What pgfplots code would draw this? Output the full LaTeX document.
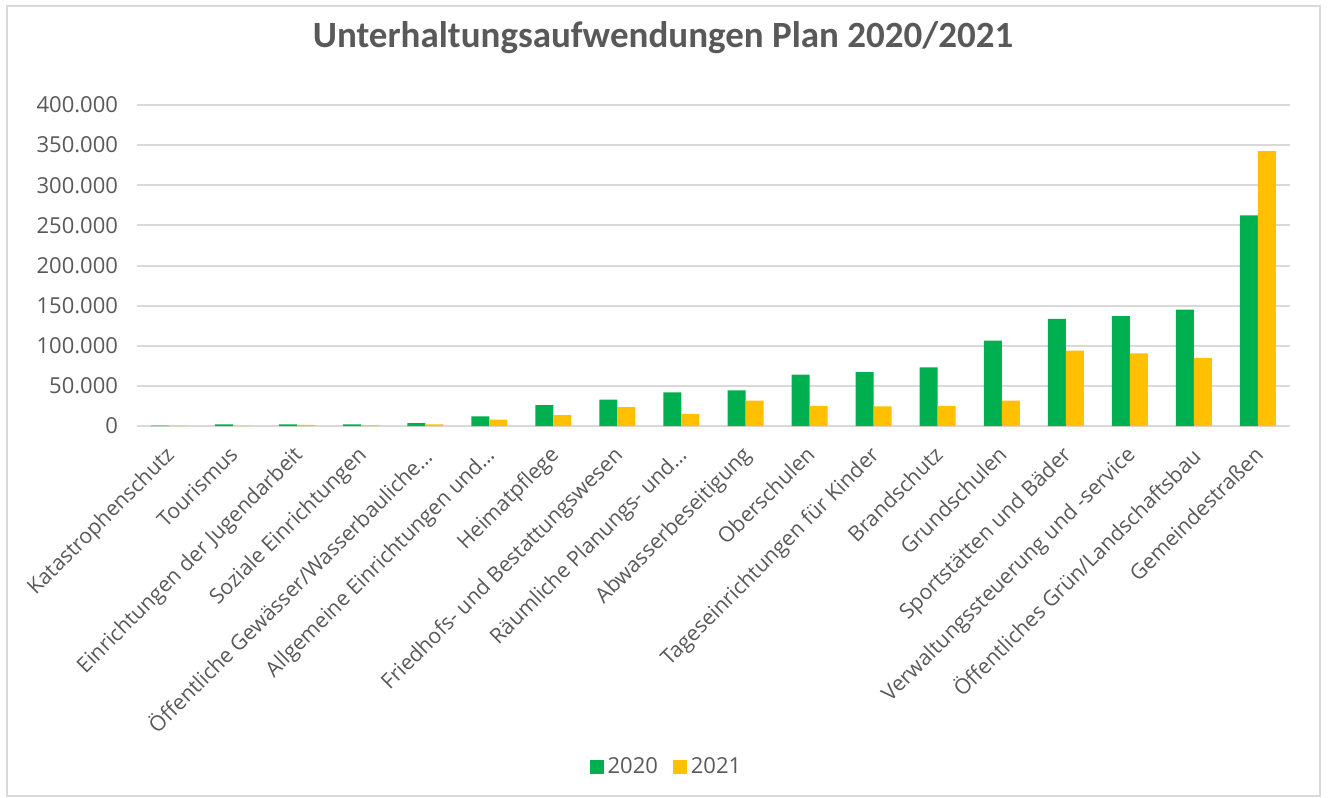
\documentclass[border=0pt]{standalone}
\usepackage{pgfplots}
\pgfplotsset{compat=1.18}
\usepackage{fontspec}
\setmainfont{Open Sans}
\newfontfamily\titlefont{Carlito}
\definecolor{g20}{HTML}{00B050}
\definecolor{y21}{HTML}{FFC000}
\definecolor{txt}{HTML}{595959}
\definecolor{grd}{HTML}{D9D9D9}

\pgfplotstableread{
x  v2020   v2021
0  500     300
1  2000    300
2  2000    1500
3  2000    800
4  3500    2000
5  12000   8000
6  26000   13500
7  33000   23500
8  42000   15000
9  44500   31500
10 64000   25000
11 67000   24500
12 73000   25000
13 106500  31600
14 133500  94000
15 137000  90500
16 145000  85000
17 262500  342500
}\datatable

\begin{document}
\begin{tikzpicture}
% chart area, 1px = 0.5bp, origin at the lower left corner of the plot area
\useasboundingbox[fill=white] (-68.5bp,-186bp) rectangle (595.5bp,213bp);
\draw[grd, line width=1bp] (-65bp,-185bp) rectangle (591.5bp,210bp);
\begin{axis}[
    at={(0,0)}, anchor=south west,
    scale only axis,
    width=576.5bp, height=160.5bp,
    ybar=0pt, bar width=9bp,
    xmin=-0.5, xmax=17.5,
    ymin=0, ymax=400000,
    ytick={0,50000,...,400000},
    scaled y ticks=false,
    /pgf/number format/.cd, fixed, 1000 sep={.}, assume math mode=true,
    /pgfplots/.cd,
    axis line style={draw=none},
    major tick length=0pt,
    ymajorgrids, grid style={grd, line width=1bp},
    xtick={0,...,17},
    xticklabels={
      {Katastrophenschutz},
      {Tourismus},
      {Einrichtungen der Jugendarbeit},
      {Soziale Einrichtungen},
      {Öffentliche Gewässer/Wasserbauliche…},
      {Allgemeine Einrichtungen und…},
      {Heimatpflege},
      {Friedhofs- und Bestattungswesen},
      {Räumliche Planungs- und…},
      {Abwasserbeseitigung},
      {Oberschulen},
      {Tageseinrichtungen für Kinder},
      {Brandschutz},
      {Grundschulen},
      {Sportstätten und Bäder},
      {Verwaltungssteuerung und -service},
      {Öffentliches Grün/Landschaftsbau},
      {Gemeindestraßen}},
    xticklabel style={xshift=-2.5bp, yshift=-4.5bp, rotate=45, anchor=north east, font=\fontsize{10.6bp}{13bp}\selectfont, text=txt},
    yticklabel style={font=\fontsize{11bp}{13bp}\selectfont, text=txt, xshift=-6bp},
    title={Unterhaltungsaufwendungen Plan 2020/2021},
    title style={at={(0.4562,1)}, anchor=center, yshift=27.5bp, font=\titlefont\bfseries\fontsize{18.5bp}{22bp}\selectfont, text=txt},
    legend columns=2,
    legend style={at={(0.46,-1.062)}, anchor=center, draw=none,
      font=\fontsize{11bp}{13bp}\selectfont, text=txt,
      /tikz/every even column/.append style={column sep=5.5bp}},
    legend image code/.code={\fill[#1] (0bp,-3.5bp) rectangle (7bp,3.5bp);},
]
\addplot[fill=g20, draw=none] table[x=x, y=v2020] {\datatable};
\addlegendentry{2020}
\addplot[fill=y21, draw=none] table[x=x, y=v2021] {\datatable};
\addlegendentry{2021}
\end{axis}
\end{tikzpicture}
\end{document}
